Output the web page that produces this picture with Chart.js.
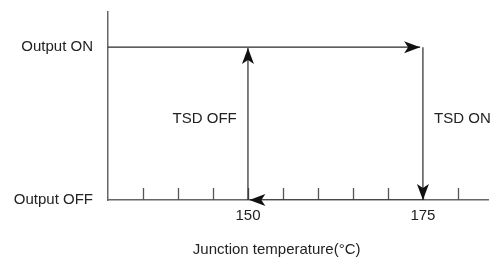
<!DOCTYPE html>
<html>
<head>
<meta charset="utf-8">
<script src="https://cdn.jsdelivr.net/npm/chart.js@4.4.0/dist/chart.umd.min.js"></script>
<style>
  html, body { margin: 0; padding: 0; background: #fff; }
  #wrap { width: 495px; height: 259px; }
</style>
</head>
<body>
<div id="wrap"><canvas id="c"></canvas></div>
<script>
// temperature axis (°C)
const tempMin = 130;
const tempMax = 184.3;
const tickValues = [135, 140, 145, 150, 155, 160, 165, 170, 175, 180];
const labeledTicks = [150, 175];
const xTitle = 'Junction temperature(°C)';
const xTitleAt = 154.1;

// output states (0 = OFF, 1 = ON)
const stateLabels = ['Output OFF', 'Output ON'];
const stateMax = 1.23;

// hysteresis loop, every leg ends with an arrow head
const heatUpX = [130, 174.6];
const heatUpY = [1, 1];
const tsdOnX = [175, 175];
const tsdOnY = [1, 0];
const coolDownX = [175, 150.2];
const coolDownY = [0, 0];
const tsdOffX = [150, 150];
const tsdOffY = [0, 0.995];

// notes next to the vertical legs
const noteText = ['TSD OFF', 'TSD ON'];
const noteX = [148.4, 176.6];
const noteY = [0.53, 0.53];
const noteAlign = ['right', 'left'];

const FONT = "'Liberation Sans', Arial, sans-serif";
Chart.defaults.font.family = FONT;
Chart.defaults.font.size = 15;
Chart.defaults.color = '#222';

const toPoints = (xs, ys) => xs.map((x, i) => ({ x: x, y: ys[i] }));

const leg = (xs, ys) => ({
  data: toPoints(xs, ys),
  showLine: true,
  borderColor: '#2a2a2a',
  borderWidth: 1.2,
  pointRadius: 0,
});

// arrow head at the last point of every dataset
const arrowHeads = {
  id: 'arrowHeads',
  afterDatasetsDraw(chart) {
    const ctx = chart.ctx;
    chart.data.datasets.forEach((ds, i) => {
      const pts = chart.getDatasetMeta(i).data;
      const a = pts[pts.length - 2];
      const b = pts[pts.length - 1];
      const ang = Math.atan2(b.y - a.y, b.x - a.x);
      ctx.save();
      ctx.translate(b.x, b.y);
      ctx.rotate(ang);
      ctx.beginPath();
      ctx.moveTo(0, 0);
      ctx.lineTo(-16, -6);
      ctx.lineTo(-12, 0);
      ctx.lineTo(-16, 6);
      ctx.closePath();
      ctx.fillStyle = '#111';
      ctx.fill();
      ctx.restore();
    });
  }
};

// small tick marks pointing up from the temperature axis
const tickMarks = {
  id: 'tickMarks',
  beforeDatasetsDraw(chart) {
    const ctx = chart.ctx;
    const xs = chart.scales.x;
    const y0 = chart.scales.y.getPixelForValue(0);
    ctx.save();
    ctx.strokeStyle = '#555';
    ctx.lineWidth = 1.3;
    ctx.beginPath();
    xs.ticks.forEach(t => {
      const px = Math.round(xs.getPixelForValue(t.value)) + 0.5;
      ctx.moveTo(px, y0);
      ctx.lineTo(px, y0 - 12);
    });
    ctx.stroke();
    ctx.restore();
  }
};

// notes and axis title
const texts = {
  id: 'texts',
  afterDraw(chart) {
    const ctx = chart.ctx;
    const xs = chart.scales.x;
    const ys = chart.scales.y;
    ctx.save();
    ctx.fillStyle = '#222';
    ctx.font = '15px ' + FONT;
    ctx.textBaseline = 'middle';
    noteText.forEach((t, i) => {
      ctx.textAlign = noteAlign[i];
      ctx.fillText(t, xs.getPixelForValue(noteX[i]), ys.getPixelForValue(noteY[i]));
    });
    ctx.textAlign = 'center';
    ctx.fillText(xTitle, xs.getPixelForValue(xTitleAt), xs.bottom - 9);
    ctx.restore();
  }
};

new Chart(document.getElementById('c'), {
  type: 'scatter',
  data: {
    datasets: [
      leg(heatUpX, heatUpY),
      leg(tsdOnX, tsdOnY),
      leg(coolDownX, coolDownY),
      leg(tsdOffX, tsdOffY),
    ],
  },
  options: {
    responsive: true,
    maintainAspectRatio: false,
    animation: false,
    devicePixelRatio: 1,
    layout: { padding: { top: 12, right: 7, left: 0, bottom: 0 } },
    plugins: {
      legend: { display: false },
      tooltip: { enabled: false },
    },
    scales: {
      x: {
        type: 'linear',
        min: tempMin,
        max: tempMax,
        afterBuildTicks: s => { s.ticks = tickValues.map(v => ({ value: v })); },
        afterFit: s => { s.height = 59; s.paddingRight = 0; s.paddingLeft = 0; },
        grid: { display: false, drawTicks: false },
        border: { display: true, color: '#666', width: 1.5 },
        ticks: {
          autoSkip: false,
          maxRotation: 0,
          padding: 7,
          callback: v => labeledTicks.includes(v) ? String(v) : '',
        },
      },
      y: {
        type: 'linear',
        min: 0,
        max: stateMax,
        afterBuildTicks: s => { s.ticks = [{ value: 0 }, { value: 1 }]; },
        afterFit: s => { s.width = 108; s.paddingTop = 0; s.paddingBottom = 0; },
        grid: { display: false, drawTicks: false },
        border: { display: true, color: '#666', width: 1.5 },
        ticks: {
          padding: 15,
          callback: v => stateLabels[v],
        },
      },
    },
  },
  plugins: [tickMarks, arrowHeads, texts],
});
</script>
</body>
</html>
